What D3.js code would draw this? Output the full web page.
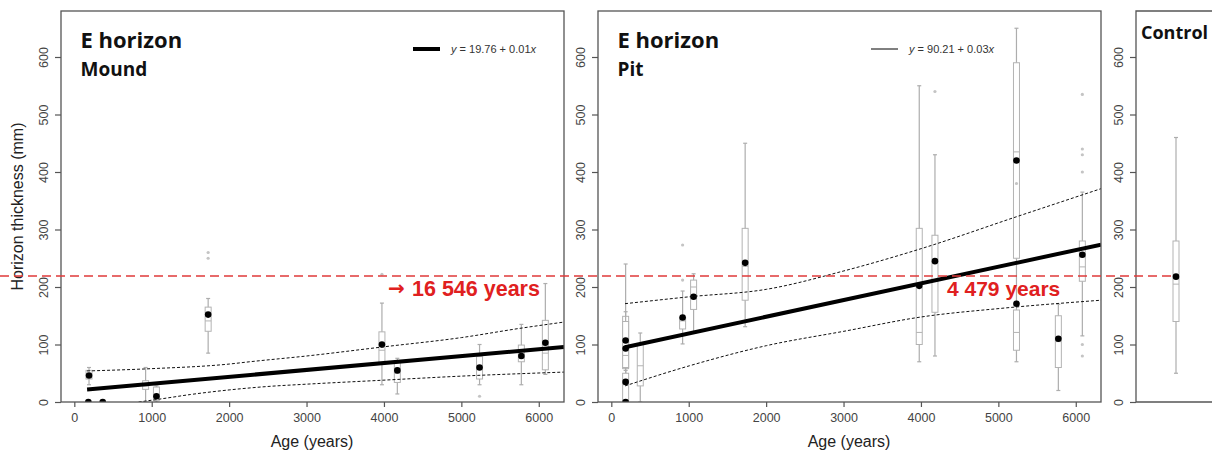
<!DOCTYPE html>
<html>
<head>
<meta charset="utf-8">
<title>E horizon thickness vs age</title>
<script src="https://cdn.jsdelivr.net/npm/d3@7"></script>
<style>
  body { margin: 0; background: #fff; }
  svg { display: block; font-family: "Liberation Sans", Arial, sans-serif; }
  .title { font-family: "Open Sans", sans-serif; font-weight: 700; fill: #111; }
  .tick text { fill: #444; font-size: 12.5px; font-family: "Liberation Sans", Arial, sans-serif; }
  .tick line { stroke: #555; stroke-width: 1.2; }
  .box { fill: #fff; stroke: #b3b3b3; stroke-width: 1; }
  .whisk { stroke: #adadad; stroke-width: 1.2; }
  .out { fill: #c4c4c4; }
  .mean { fill: #000; }
  .ci { fill: none; stroke: #111; stroke-width: 1; stroke-dasharray: 3,2; }
  .fit { stroke: #000; stroke-width: 4; }
</style>
</head>
<body>
<script>
// axis ticks
var yTicks = [0, 100, 200, 300, 400, 500, 600];
var xTicks = [0, 1000, 2000, 3000, 4000, 5000, 6000];
var threshold = 219;

// Mound boxes (one per site); null mean = dot hidden under the fit line
var moundAge    = [190, 181, 367, 921, 1061, 1729, 3974, 4173, 5235, 5775, 6085];
var moundLow    = [30, 0, 0, 0, 0, 85, 30, 14, 30, 30, 48];
var moundQ1     = [40, 0, 0, 22, 3, 123, 68, 34, 40, 70, 56];
var moundMedian = [45, 0, 0, 28, 12, 141, 90, 50, 62, 80, 85];
var moundQ3     = [55, 0, 0, 37, 26, 165, 122, 72, 79, 99, 142];
var moundHigh   = [60, 0, 0, 60, 28, 180, 172, 76, 100, 135, 206];
var moundMean   = [46, 0, 0, null, 10, 152, 100, 55, 60, 80, 103];
var moundOutAge = [1729, 1729, 3974, 5235];
var moundOutVal = [250, 260, 222, 10];
var moundFit    = [19.76, 0.012];
var moundUpper  = [[165, 54], [1000, 58], [2000, 66], [2267, 70], [3000, 80], [4000, 96], [5000, 112], [5751, 128], [6326, 139]];
var moundLower  = [[830, 0], [1100, 5], [1500, 13], [2000, 21], [2500, 27], [3000, 31], [4000, 38], [5000, 45], [6326, 52]];

// Pit boxes
var pitAge    = [185, 185, 185, 185, 374, 921, 1063, 1729, 3978, 4181, 5234, 5234, 5775, 6085];
var pitLow    = [0, 30, 0, 0, 0, 101, 122, 131, 70, 80, 175, 70, 20, 115];
var pitQ1     = [58, 60, 0, 0, 28, 127, 161, 177, 100, 156, 250, 90, 60, 210];
var pitMedian = [63, 81, 30, 0, 63, 141, 200, 236, 121, 210, 435, 121, 105, 235];
var pitQ3     = [149, 140, 50, 0, 101, 147, 212, 302, 302, 290, 590, 160, 150, 280];
var pitHigh   = [240, 157, 55, 0, 120, 193, 223, 450, 550, 430, 650, 172, 170, 365];
var pitMean   = [107, 93, 35, 0, null, 147, 183, 242, 202, 245, 420, 171, 110, 256];
var pitOutAge = [921, 921, 4181, 5234, 6085, 6085, 6085, 6085, 6085, 6085];
var pitOutVal = [212, 273, 540, 380, 80, 100, 400, 430, 440, 535];
var pitFit    = [90.21, 0.029];
var pitUpper  = [[177, 171], [1010, 183], [2004, 196], [3005, 228], [4010, 267], [5230, 322], [6326, 371]];
var pitLower  = [[177, 28], [1010, 63], [2004, 98], [3005, 123], [4010, 148], [5047, 163], [6326, 177]];

// Control
var controlStats = [50, 140, 205, 280, 460];
var controlMean  = 218;

var W = 1212, H = 450;
var svg = d3.select("body").append("svg").attr("width", W).attr("height", H);

var y = d3.scaleLinear().domain([0, 680]).range([402, 11]);

function makeBoxes(age, lo, q1, md, q3, hi, mn) {
  return age.map(function(a, i) {
    return {age: a, lo: lo[i], q1: q1[i], med: md[i], q3: q3[i], hi: hi[i], mean: mn[i]};
  });
}

function yAxis(g) {
  g.call(d3.axisLeft(y).tickValues(yTicks).tickSize(6).tickFormat(d3.format("d")));
  g.select(".domain").remove();
  g.selectAll(".tick text")
    .attr("x", 0).attr("dy", 0)
    .attr("transform", "translate(-13,0) rotate(-90)")
    .style("text-anchor", "middle");
}

function drawBoxes(g, x, boxes, bw) {
  var b = g.selectAll("g.bx").data(boxes).enter().append("g").attr("class", "bx");
  b.append("line").attr("class", "whisk")
    .attr("x1", function(d) { return x(d.age); }).attr("x2", function(d) { return x(d.age); })
    .attr("y1", function(d) { return y(d.lo); }).attr("y2", function(d) { return y(d.hi); });
  b.append("line").attr("class", "whisk")
    .attr("x1", function(d) { return x(d.age) - 2; }).attr("x2", function(d) { return x(d.age) + 2; })
    .attr("y1", function(d) { return y(d.hi); }).attr("y2", function(d) { return y(d.hi); });
  b.append("line").attr("class", "whisk")
    .attr("x1", function(d) { return x(d.age) - 2; }).attr("x2", function(d) { return x(d.age) + 2; })
    .attr("y1", function(d) { return y(d.lo); }).attr("y2", function(d) { return y(d.lo); });
  b.append("rect").attr("class", "box")
    .attr("x", function(d) { return x(d.age) - bw / 2; })
    .attr("width", bw)
    .attr("y", function(d) { return y(d.q3); })
    .attr("height", function(d) { return y(d.q1) - y(d.q3); });
  b.append("line").attr("class", "box")
    .attr("x1", function(d) { return x(d.age) - bw / 2; }).attr("x2", function(d) { return x(d.age) + bw / 2; })
    .attr("y1", function(d) { return y(d.med); }).attr("y2", function(d) { return y(d.med); });
}

function panel(opt) {
  var x = d3.scaleLinear().domain([-172, 6326]).range([opt.left, opt.left + 503]);
  var g = svg.append("g");
  var clipId = "clip" + opt.left;
  svg.append("clipPath").attr("id", clipId).append("rect")
    .attr("x", opt.left).attr("y", 11).attr("width", 503).attr("height", 391);
  var inner = g.append("g").attr("clip-path", "url(#" + clipId + ")");

  drawBoxes(inner, x, opt.boxes, 6);
  inner.selectAll("circle.out").data(opt.outAge).enter().append("circle")
    .attr("class", "out").attr("r", 1.6)
    .attr("cx", function(d) { return x(d); })
    .attr("cy", function(d, i) { return y(opt.outVal[i]); });
  inner.selectAll("circle.mean").data(opt.boxes.filter(function(d) { return d.mean !== null; }))
    .enter().append("circle")
    .attr("class", "mean").attr("r", 3.3)
    .attr("cx", function(d) { return x(d.age); })
    .attr("cy", function(d) { return y(d.mean); });

  var line = d3.line().x(function(d) { return x(d[0]); }).y(function(d) { return y(d[1]); })
    .curve(d3.curveMonotoneX);
  inner.append("path").attr("class", "ci").attr("d", line(opt.upper));
  inner.append("path").attr("class", "ci").attr("d", line(opt.lower));
  inner.append("line").attr("class", "fit")
    .attr("x1", x(opt.fitFrom)).attr("y1", y(opt.fit[0] + opt.fit[1] * opt.fitFrom))
    .attr("x2", x(6326)).attr("y2", y(opt.fit[0] + opt.fit[1] * 6326));

  // frame and axes
  g.append("rect").attr("x", opt.left).attr("y", 11).attr("width", 503).attr("height", 391)
    .attr("fill", "none").attr("stroke", "#555").attr("stroke-width", 1.3);
  g.append("g").attr("transform", "translate(" + opt.left + ",0)").call(yAxis);
  var xa = g.append("g").attr("transform", "translate(0,402)")
    .call(d3.axisBottom(x).tickValues(xTicks).tickSize(5).tickPadding(6).tickFormat(d3.format("d")));
  xa.select(".domain").remove();

  g.append("text").attr("x", opt.left + 251).attr("y", 447)
    .attr("text-anchor", "middle").attr("font-size", 16).attr("fill", "#222")
    .text("Age (years)");

  g.append("text").attr("class", "title").attr("x", opt.left + 19.5).attr("y", 48)
    .attr("font-size", 22).text("E horizon");
  g.append("text").attr("class", "title").attr("x", opt.left + 19.5).attr("y", 76)
    .attr("font-size", 19).text(opt.sub);

  // legend
  g.append("line").attr("x1", opt.legX).attr("x2", opt.legX + 27).attr("y1", 49).attr("y2", 49)
    .attr("stroke", "#000").attr("stroke-width", opt.legW);
  var t = g.append("text").attr("x", opt.legX + 38).attr("y", 52.5)
    .attr("font-size", 11).attr("fill", "#333");
  t.append("tspan").attr("font-style", "italic").text("y");
  t.append("tspan").text(" = " + opt.fit[0].toFixed(2) + " + " + opt.legSlope);
  t.append("tspan").attr("font-style", "italic").text("x");
  return x;
}

panel({
  left: 61, sub: "Mound",
  boxes: makeBoxes(moundAge, moundLow, moundQ1, moundMedian, moundQ3, moundHigh, moundMean),
  outAge: moundOutAge, outVal: moundOutVal, fit: moundFit, fitFrom: 165,
  upper: moundUpper, lower: moundLower, legX: 413, legW: 4, legSlope: "0.01"
});
panel({
  left: 598, sub: "Pit",
  boxes: makeBoxes(pitAge, pitLow, pitQ1, pitMedian, pitQ3, pitHigh, pitMean),
  outAge: pitOutAge, outVal: pitOutVal, fit: pitFit, fitFrom: 177,
  upper: pitUpper, lower: pitLower, legX: 871, legW: 1, legSlope: "0.03"
});

// y axis title
svg.append("text").attr("transform", "translate(23,206.5) rotate(-90)")
  .attr("text-anchor", "middle").attr("font-size", 16).attr("fill", "#222")
  .text("Horizon thickness (mm)");

// Control panel
var cLeft = 1136, cx = 1176;
var cg = svg.append("g");
cg.append("line").attr("class", "whisk").attr("x1", cx).attr("x2", cx)
  .attr("y1", y(controlStats[0])).attr("y2", y(controlStats[4]));
[controlStats[0], controlStats[4]].forEach(function(v) {
  cg.append("line").attr("class", "whisk").attr("x1", cx - 2).attr("x2", cx + 2)
    .attr("y1", y(v)).attr("y2", y(v));
});
cg.append("rect").attr("class", "box").attr("x", cx - 3).attr("width", 6)
  .attr("y", y(controlStats[3])).attr("height", y(controlStats[1]) - y(controlStats[3]));
cg.append("line").attr("class", "box").attr("x1", cx - 3).attr("x2", cx + 3)
  .attr("y1", y(controlStats[2])).attr("y2", y(controlStats[2]));
cg.append("path").attr("fill", "none").attr("stroke", "#555").attr("stroke-width", 1.3)
  .attr("d", "M" + (W + 5) + ",11H" + cLeft + "V402H" + (W + 5));
cg.append("g").attr("transform", "translate(" + cLeft + ",0)").call(yAxis);
cg.append("text").attr("class", "title").attr("x", 1141).attr("y", 39)
  .attr("font-size", 18).text("Control");

// red threshold line, from the control mean across both panels
svg.append("line").attr("x1", 0).attr("x2", cx).attr("y1", y(threshold)).attr("y2", y(threshold))
  .attr("stroke", "#e03a3a").attr("stroke-width", 1.5).attr("stroke-dasharray", "9,5");
svg.append("circle").attr("class", "mean").attr("r", 3.3).attr("cx", cx).attr("cy", y(controlMean));

svg.append("text").attr("x", 388).attr("y", 295).attr("fill", "#e02020")
  .attr("font-size", 20).attr("font-weight", "bold").attr("font-family", "DejaVu Sans")
  .text("\u2192");
svg.append("text").attr("x", 412).attr("y", 296).attr("fill", "#e02020")
  .attr("font-size", 21.5).attr("font-weight", "bold").text("16 546 years");
svg.append("text").attr("x", 947).attr("y", 296).attr("fill", "#e02020")
  .attr("font-size", 21).attr("font-weight", "bold").text("4 479 years");
</script>
</body>
</html>
